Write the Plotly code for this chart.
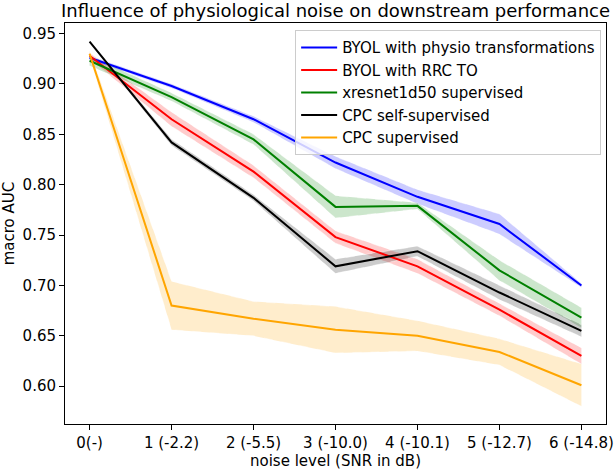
import plotly.graph_objects as go

# noise levels (x axis)
noise_labels = ["0(-)", "1 (-2.2)", "2 (-5.5)", "3 (-10.0)", "4 (-10.1)", "5 (-12.7)", "6 (-14.8)"]
noise_idx = [0, 1, 2, 3, 4, 5, 6]

# macro AUC means and spread
byol_physio = [0.926, 0.898, 0.865, 0.822, 0.788, 0.761, 0.700]
byol_physio_sd = [0.002, 0.002, 0.003, 0.006, 0.007, 0.010, 0.002]

byol_rrc = [0.928, 0.865, 0.813, 0.748, 0.719, 0.676, 0.630]
byol_rrc_sd = [0.003, 0.007, 0.006, 0.006, 0.007, 0.006, 0.008]

xresnet_sup = [0.923, 0.887, 0.845, 0.778, 0.779, 0.715, 0.668]
xresnet_sup_sd = [0.005, 0.004, 0.005, 0.011, 0.003, 0.010, 0.010]

cpc_self = [0.942, 0.842, 0.787, 0.719, 0.734, 0.693, 0.655]
cpc_self_sd = [0.001, 0.003, 0.003, 0.007, 0.005, 0.007, 0.006]

cpc_sup = [0.930, 0.680, 0.667, 0.656, 0.650, 0.634, 0.601]
cpc_sup_sd = [0.003, 0.024, 0.017, 0.023, 0.015, 0.013, 0.021]

series = [
    ("BYOL with physio transformations", byol_physio, byol_physio_sd, "#0000ff", "rgba(0,0,255,0.2)"),
    ("BYOL with RRC TO", byol_rrc, byol_rrc_sd, "#ff0000", "rgba(255,0,0,0.2)"),
    ("xresnet1d50 supervised", xresnet_sup, xresnet_sup_sd, "#008000", "rgba(0,128,0,0.2)"),
    ("CPC self-supervised", cpc_self, cpc_self_sd, "#000000", "rgba(0,0,0,0.2)"),
    ("CPC supervised", cpc_sup, cpc_sup_sd, "#ffa500", "rgba(255,165,0,0.2)"),
]

fig = go.Figure()

# shaded bands first
for name, mean, sd, col, fill in series:
    upper = [m + s for m, s in zip(mean, sd)]
    lower = [m - s for m, s in zip(mean, sd)]
    fig.add_trace(go.Scatter(x=noise_idx, y=upper, mode="lines",
                             line=dict(color="rgba(255,255,255,0.7)", width=0.6, dash="dash"),
                             showlegend=False, hoverinfo="skip"))
    fig.add_trace(go.Scatter(x=noise_idx, y=lower, mode="lines", fill="tonexty", fillcolor=fill,
                             line=dict(color="rgba(255,255,255,0.7)", width=0.6, dash="dash"),
                             showlegend=False, hoverinfo="skip"))

for name, mean, sd, col, fill in series:
    fig.add_trace(go.Scatter(x=noise_idx, y=mean, mode="lines", name=name,
                             line=dict(color=col, width=2)))

fig.update_layout(
    width=614, height=470, autosize=False,
    margin=dict(l=65, r=8, t=23, b=46),
    paper_bgcolor="white", plot_bgcolor="white",
    font=dict(family="DejaVu Sans", size=15, color="black"),
    title=dict(text="Influence of physiological noise on downstream performance",
               x=0.5, xref="paper", xanchor="center",
               y=0.977, yref="container", yanchor="middle", pad=dict(t=0, b=0),
               font=dict(size=18)),
    legend=dict(x=0.991, y=0.982, xanchor="right", yanchor="top", traceorder="normal",
                bgcolor="rgba(255,255,255,0.8)", bordercolor="#cccccc", borderwidth=1,
                font=dict(size=15), tracegroupgap=0, itemwidth=36),
)
fig.update_xaxes(range=[-0.3, 6.3], tickvals=noise_idx, ticktext=noise_labels,
                 automargin=False,
                 showgrid=False, zeroline=False, showline=True, linecolor="black", linewidth=1,
                 mirror=True, ticks="outside", ticklen=5, tickcolor="black",
                 tickfont=dict(size=15),
                 title=dict(text="noise level (SNR in dB)", standoff=2, font=dict(size=15)))
fig.update_yaxes(range=[0.5625, 0.9605], tickvals=[0.60, 0.65, 0.70, 0.75, 0.80, 0.85, 0.90, 0.95],
                 tickformat=".2f", tickfont=dict(size=15), automargin=False,
                 showgrid=False, zeroline=False, showline=True, linecolor="black", linewidth=1,
                 mirror=True, ticks="outside", ticklen=5, tickcolor="black",
                 title=dict(text="macro AUC", standoff=6, font=dict(size=15)))

# page body has a default 8px margin; drop it so the figure sits at the corner
fig.write_html("out.html", config={"displayModeBar": False},
               post_script="document.body.style.margin='0px';")
